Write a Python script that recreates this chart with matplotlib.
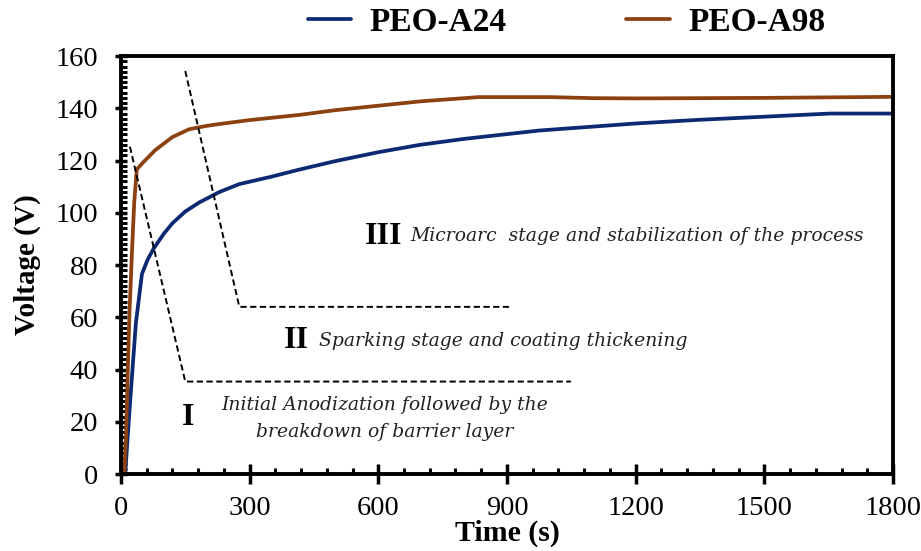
import matplotlib.pyplot as plt
from matplotlib.ticker import MultipleLocator

# Voltage–time transients for the two PEO treatments
t_a24 = [0, 10, 14, 19, 26, 35, 49, 62, 77, 100, 120, 150, 183, 230, 276, 350, 417,
         500, 600, 696, 800, 975, 1100, 1200, 1347, 1500, 1653, 1800]
v_a24 = [0, 0, 10, 22, 38, 58, 76.6, 82, 86.5, 92, 96, 100.5, 104, 108, 111, 113.8, 116.6,
         119.8, 123.2, 126, 128.3, 131.5, 133, 134.2, 135.6, 136.8, 138, 138]

t_a98 = [0, 8, 12, 16, 20, 26, 31, 37, 50, 80, 120, 159, 200, 230, 300, 417,
         500, 600, 700, 834, 1000, 1100, 1200, 1350, 1500, 1650, 1800]
v_a98 = [0, 0, 15, 40, 62, 86, 104, 116.6, 119, 124, 129, 132, 133.3, 134, 135.5, 137.5,
         139.3, 141, 142.7, 144.3, 144.3, 143.9, 143.8, 143.9, 144, 144.2, 144.4]

x_ticks = [0, 300, 600, 900, 1200, 1500, 1800]
y_ticks = [0, 20, 40, 60, 80, 100, 120, 140, 160]

# Stage boundary guides (time, voltage)
stage1_t = [21, 150, 1049]
stage1_v = [125.3, 35.4, 35.4]
stage2_t = [150, 276, 913]
stage2_v = [154.3, 64, 64]

serif = ['Liberation Serif', 'DejaVu Serif']
note_font = ['DejaVu Serif', 'Liberation Serif']
plt.rcParams['font.family'] = serif

fig = plt.figure(figsize=(9.21, 5.51), dpi=100)
ax = fig.add_axes([0.1313, 0.1397, 0.8383, 0.7585])

ax.plot(t_a24, v_a24, color='#0b2a72', lw=2.7, label='PEO-A24', solid_capstyle='round')
ax.plot(t_a98, v_a98, color='#8c4111', lw=2.7, label='PEO-A98', solid_capstyle='round')

ax.plot(stage1_t, stage1_v, color='black', lw=1.4, dashes=(3.2, 1.8))
ax.plot(stage2_t, stage2_v, color='black', lw=1.4, dashes=(3.2, 1.8))

ax.set_xlim(0, 1800)
ax.set_ylim(0, 160)
ax.set_xticks(x_ticks)
ax.set_yticks(y_ticks)
ax.xaxis.set_minor_locator(MultipleLocator(60))
ax.yaxis.set_minor_locator(MultipleLocator(2))

ax.tick_params(axis='x', which='major', labelsize=20.5, width=2.5, length=14,
               direction='inout', pad=9)
ax.tick_params(axis='y', which='major', labelsize=20.5, width=2.5, length=9,
               direction='inout', pad=12)
ax.tick_params(axis='both', which='minor', width=2.2, length=4, direction='in')

for s in ax.spines.values():
    s.set_linewidth(2.8)

ax.set_xlabel('Time (s)', fontsize=21.5, fontweight='bold', labelpad=-1)
ax.set_ylabel('Voltage (V)', fontsize=21, fontweight='bold', labelpad=10)

# Stage annotations
ax.text(569, 91, 'III', fontsize=23, fontweight='bold', va='center', ha='left')
ax.text(674, 91, 'Microarc  stage and stabilization of the process', fontsize=13.5,
        family=note_font, style='italic', va='center', ha='left', color='#222222')
ax.text(380, 51, 'II', fontsize=23, fontweight='bold', va='center', ha='left')
ax.text(462, 51, 'Sparking stage and coating thickening', fontsize=13.5,
        family=note_font, style='italic', va='center', ha='left', color='#222222')
ax.text(143, 21.5, 'I', fontsize=23, fontweight='bold', va='center', ha='left')
ax.text(616, 26.5, 'Initial Anodization followed by the', fontsize=13.5,
        family=note_font, style='italic', va='center', ha='center', color='#222222')
ax.text(616, 16, 'breakdown of barrier layer', fontsize=13.5,
        family=note_font, style='italic', va='center', ha='center', color='#222222')

fig.legend(loc='center', bbox_to_anchor=(0.615, 0.96), ncol=2, frameon=False,
           prop={'family': serif, 'weight': 'bold', 'size': 24},
           handlelength=1.3, handletextpad=0.55, columnspacing=3.6)

fig.savefig('out.png', dpi=100)
